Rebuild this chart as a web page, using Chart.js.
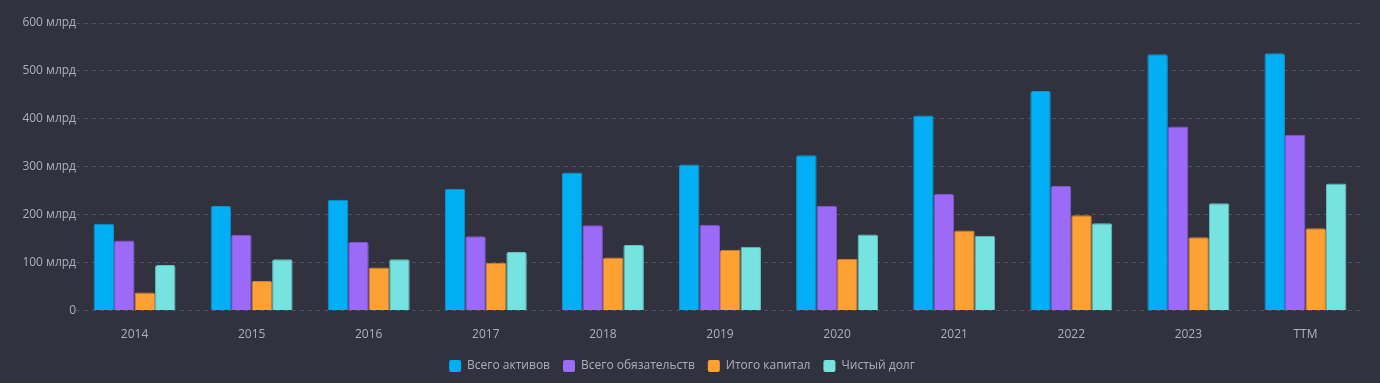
<!DOCTYPE html>
<html>
<head>
<meta charset="utf-8">
<script src="https://cdn.jsdelivr.net/npm/chart.js@4/dist/chart.umd.min.js"></script>
<style>
  html, body { margin: 0; padding: 0; background: #32323e; }
  #wrap { width: 1380px; height: 383px; position: relative; }
</style>
</head>
<body>
<div id="wrap"><canvas id="c" width="1380" height="383"></canvas></div>
<script>
const categories = ['2014','2015','2016','2017','2018','2019','2020','2021','2022','2023','TTM'];
const totalAssets = [181, 218, 231, 254, 288, 305, 324, 407, 458, 535, 537];
const totalLiabilities = [146, 158, 143, 155, 178, 179, 219, 243, 260, 384, 367];
const totalEquity = [38, 62, 90, 100, 111, 127, 108, 167, 199, 153, 172];
const netDebt = [95, 107, 107, 122, 137, 133, 159, 156, 182, 224, 265];
const seriesNames = ['Всего активов', 'Всего обязательств', 'Итого капитал', 'Чистый долг'];
const yTicks = [0, 100, 200, 300, 400, 500, 600];

const fills = ['#02aff4', '#9b6bf8', '#fea135', '#77e3e0'];
const borders = ['#0a97d0', '#8456d8', '#d9862a', '#5fc4c1'];
const txt = '#a9b1c1';

const mk = (label, data, i) => ({
  label, data,
  backgroundColor: fills[i],
  borderColor: borders[i],
  borderWidth: 1,
  borderSkipped: 'bottom',
  borderRadius: { topLeft: 2, topRight: 2 },
  categoryPercentage: 0.70,
  barPercentage: 1.0
});

new Chart(document.getElementById('c'), {
  type: 'bar',
  data: {
    labels: categories,
    datasets: [
      mk(seriesNames[0], totalAssets, 0),
      mk(seriesNames[1], totalLiabilities, 1),
      mk(seriesNames[2], totalEquity, 2),
      mk(seriesNames[3], netDebt, 3)
    ]
  },
  options: {
    responsive: false,
    animation: false,
    layout: { padding: { top: 23, right: 16, left: 0, bottom: 1 } },
    plugins: {
      tooltip: { enabled: false },
      legend: {
        position: 'bottom',
        labels: {
          color: txt,
          font: { family: 'Open Sans', size: 12 },
          boxWidth: 12,
          boxHeight: 12,
          padding: 13,
          generateLabels(chart) {
            return chart.data.datasets.map((d, i) => ({
              text: d.label,
              fillStyle: fills[i],
              strokeStyle: fills[i],
              lineWidth: 0,
              borderRadius: 2,
              fontColor: txt,
              hidden: false,
              datasetIndex: i
            }));
          },
          useBorderRadius: true,
          borderRadius: 2
        }
      }
    },
    scales: {
      x: {
        grid: { display: false, drawTicks: false },
        border: { display: false },
        ticks: { color: txt, font: { family: 'Open Sans', size: 12 }, padding: 17 },
        afterFit(scale) { scale.height = scale.height - 12; }
      },
      y: {
        min: 0, max: 600,
        afterBuildTicks(scale) { scale.ticks = yTicks.map(v => ({ value: v })); },
        afterFit(scale) { scale.width = 76; },
        grid: { color: '#4c4f5c', lineWidth: 1, drawTicks: false },
        border: { display: false, dash: [4, 4] },
        ticks: {
          color: txt,
          font: { family: 'Open Sans', size: 12 },
          padding: 0,
          callback: v => v === 0 ? '0' : v + ' млрд'
        }
      }
    }
  }
});
</script>
</body>
</html>
